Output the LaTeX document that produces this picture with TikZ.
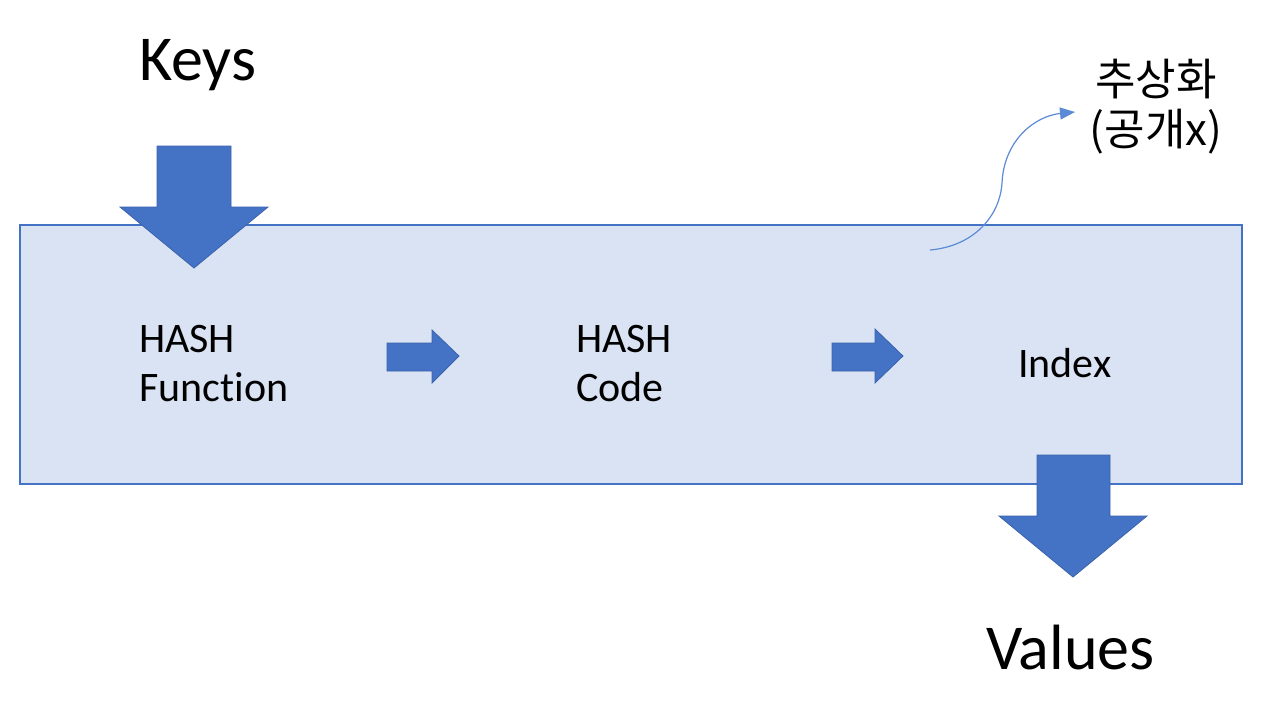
\documentclass[tikz,border=0pt]{standalone}
\usepackage{fontspec}
\setmainfont[Ligatures=NoCommon]{Carlito}
\newfontfamily\krfont{Noto Sans CJK KR}
\usetikzlibrary{arrows.meta}
\definecolor{boxfill}{HTML}{DAE3F3}
\definecolor{boxline}{HTML}{4472C4}
\definecolor{arrfill}{HTML}{4472C4}
\definecolor{arrline}{HTML}{3A63AD}
\definecolor{curveline}{HTML}{5B8BD6}
\tikzset{
  mainbox/.style={fill=boxfill, draw=boxline, line width=1.5pt},
  blockarrow/.style={fill=arrfill, draw=arrline, line width=0.8pt, line join=miter},
  bigtext/.style={font=\fontsize{64}{76}\selectfont, inner sep=0pt, text=black},
  midtext/.style={font=\fontsize{42}{49}\selectfont, inner sep=0pt, align=left, text=black},
  krtext/.style={font=\krfont\fontsize{44}{50}\selectfont, inner sep=0pt, align=center, text=black},
  curvearrow/.style={draw=curveline, line width=1.2pt, -{Triangle[width=12pt,length=15pt]}}
}
\begin{document}
\begin{tikzpicture}[x=1pt,y=-1pt]
\useasboundingbox (0,0) rectangle (1280,715);
\fill[white] (0,0) rectangle (1280,715);
% main box
\draw[mainbox] (20,225) rectangle (1242,484);
% keys arrow
\filldraw[blockarrow] (157,146) -- (231,146) -- (231,207) -- (268,207) -- (194,268) -- (120,207) -- (157,207) -- cycle;
% values arrow
\filldraw[blockarrow] (1037,455) -- (1110,455) -- (1110,516) -- (1147,516) -- (1073,577) -- (999,516) -- (1037,516) -- cycle;
% small right arrows
\filldraw[blockarrow] (387,343) -- (432,343) -- (432,330) -- (459,356) -- (432,383) -- (432,371) -- (387,371) -- cycle;
\filldraw[blockarrow] (832,343) -- (875,343) -- (875,329) -- (903,356) -- (875,383) -- (875,371) -- (832,371) -- cycle;
% texts
\node[bigtext, anchor=base west] (keys) at (139,80) {Keys};
\node[bigtext, anchor=base west] (values) at (986,669) {Values};
\node[midtext, anchor=base west] (hf) at (139,401) {HASH\\Function};
\node[midtext, anchor=base west] (hc) at (576,401) {HASH\\Code};
\node[midtext, anchor=base west] (idx) at (1018,377) {Index};
\node[krtext, anchor=base] (abs) at (1156,145) {추상화\\(공개x)};
% curve
\coordinate (cstart) at (930,250);
\coordinate (cmid) at (1002,183);
\coordinate (cend) at (1075,112);
\draw[curvearrow] (cstart) .. controls (975,246) and (1000,215) .. (cmid) .. controls (1004,140) and (1035,116) .. (cend);
\end{tikzpicture}
\end{document}
